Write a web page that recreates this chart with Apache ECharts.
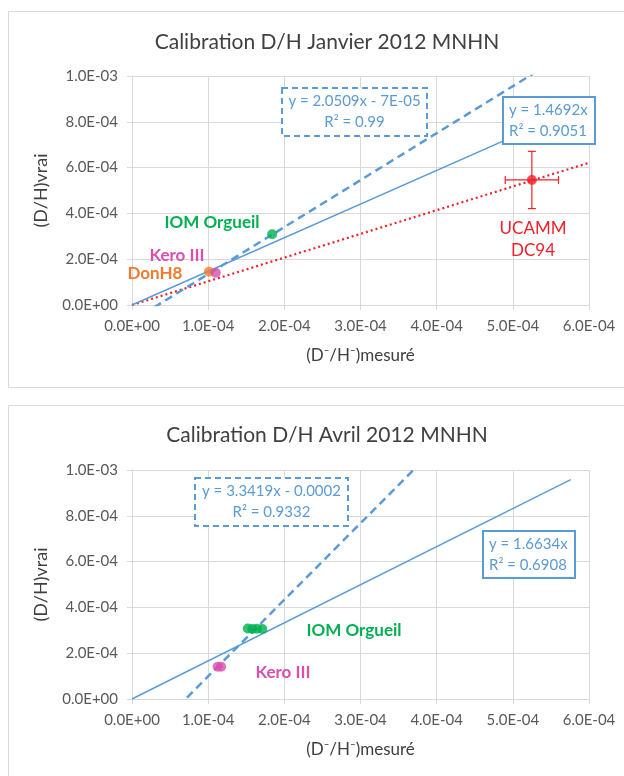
<!DOCTYPE html>
<html><head><meta charset="utf-8">
<script src="https://cdn.jsdelivr.net/npm/echarts@6/dist/echarts.min.js"></script>
<style>html,body{margin:0;padding:0;background:#fff}#c{width:624px;height:776px}</style>
</head><body><div id="c"></div>
<script>
// ---- Data: January 2012 ----
const janIOM = [[1.84e-4, 3.09e-4]];
const janKero = [[1.10e-4, 1.41e-4]];
const janDonH8 = [[1.01e-4, 1.45e-4]];
const janUcamm = [[5.25e-4, 5.46e-4]];
const janUcammErr = [[3.5e-5, 1.25e-4]];          // [x error, y error]
const janFitSolid = [1.4692, 0, 0, 5.25e-4];       // slope, intercept, xStart, xEnd
const janFitDashed = [2.0509, -7e-5, 0, 6e-4];
const janFitDotted = [1.035, 0, 0, 6e-4];
const janLabelsDashed = ['y = 2.0509x - 7E-05', 'R² = 0.99'];
const janLabelsSolid = ['y = 1.4692x', 'R² = 0.9051'];

// ---- Data: April 2012 ----
const aprIOM = [[1.52e-4, 3.08e-4], [1.58e-4, 3.06e-4], [1.64e-4, 3.07e-4], [1.71e-4, 3.06e-4]];
const aprKero = [[1.125e-4, 1.41e-4], [1.17e-4, 1.41e-4]];
const aprFitSolid = [1.6634, 0, 0, 5.76e-4];
const aprFitDashed = [3.3419, -2.35e-4, 0, 6e-4];
const aprLabelsDashed = ['y = 3.3419x - 0.0002', 'R² = 0.9332'];
const aprLabelsSolid = ['y = 1.6634x', 'R² = 0.6908'];

const titles = ['Calibration D/H Janvier 2012 MNHN', 'Calibration D/H Avril 2012 MNHN'];
const xName = '(D\u207B/H\u207B)mesuré';
const yName = '(D/H)vrai';

const FONT = 'Lato, "Open Sans", sans-serif';
const BLUE = '#5B9BD5';
const GRID = '#D9D9D9';

function sci(v) {
  if (Math.abs(v) < 1e-12) return '0.0E+00';
  const [m, e] = v.toExponential(1).split('e');
  const n = parseInt(e, 10);
  return m + 'E' + (n < 0 ? '-' : '+') + String(Math.abs(n)).padStart(2, '0');
}
function fitLine(f) {
  return [[f[2], f[0] * f[2] + f[1]], [f[3], f[0] * f[3] + f[1]]];
}

const chart = echarts.init(document.getElementById('c'), null, {renderer: 'canvas'});

function xAxis(gi) {
  return {
    gridIndex: gi, type: 'value', min: 0, max: 6e-4, interval: 1e-4,
    name: xName, nameLocation: 'middle', nameGap: 42,
    nameTextStyle: {fontFamily: FONT, fontSize: 17, color: '#404040'},
    axisLine: {lineStyle: {color: GRID}}, axisTick: {show: true, length: 5, lineStyle: {color: GRID}},
    axisLabel: {formatter: sci, fontFamily: FONT, fontSize: 15, color: '#595959', margin: 14},
    splitLine: {lineStyle: {color: GRID}}
  };
}
function yAxis(gi) {
  return {
    gridIndex: gi, type: 'value', min: 0, max: 1e-3, interval: 2e-4,
    name: yName, nameLocation: 'middle', nameGap: 82, nameRotate: 90,
    nameTextStyle: {fontFamily: FONT, fontSize: 18, color: '#404040'},
    axisLine: {show: true, lineStyle: {color: GRID}}, axisTick: {show: true, length: 5, lineStyle: {color: GRID}},
    axisLabel: {formatter: sci, fontFamily: FONT, fontSize: 15, color: '#595959', margin: 14},
    splitLine: {lineStyle: {color: GRID}}
  };
}
function scatter(gi, data, color, z) {
  return {type: 'scatter', xAxisIndex: gi, yAxisIndex: gi, data, symbolSize: 10,
    itemStyle: {color}, z: z || 5, silent: true};
}
function line(gi, f, style) {
  return {type: 'line', xAxisIndex: gi, yAxisIndex: gi, data: fitLine(f), symbol: 'none',
    clip: true, lineStyle: style, z: 3, silent: true};
}

const errData = janUcamm.map((p, i) => [p[0], p[1], janUcammErr[i][0], janUcammErr[i][1]]);

function labelBox(x, y, w, h, lines, dashed, align) {
  const children = [{
    type: 'rect', z: 100, shape: {x: 0, y: 0, width: w, height: h},
    style: {fill: '#fff', stroke: BLUE, lineWidth: 2, lineDash: dashed ? [6, 4] : null}
  }];
  lines.forEach((t, i) => {
    children.push({
      type: 'text', z: 101, x: align === 'left' ? 6 : w / 2, y: 13 + i * 21,
      style: {text: t, fill: BLUE, font: '15px ' + FONT, textAlign: align === 'left' ? 'left' : 'center', textVerticalAlign: 'middle'}
    });
  });
  return {type: 'group', x, y, z: 100, children};
}
function txt(x, y, t, color, bold) {
  return {type: 'text', x, y, z: 100, style: {text: t, fill: color, font: (bold ? 'bold ' : '') + '17px ' + FONT, textAlign: 'center', textVerticalAlign: 'middle'}};
}

chart.setOption({
  animation: false,
  title: [
    {text: titles[0], left: 322, top: 27, textAlign: 'center', textStyle: {fontFamily: FONT, fontSize: 21, fontWeight: 'normal', color: '#404040'}},
    {text: titles[1], left: 322, top: 420, textAlign: 'center', textStyle: {fontFamily: FONT, fontSize: 21, fontWeight: 'normal', color: '#404040'}}
  ],
  grid: [
    {left: 132, top: 76, width: 457, height: 229},
    {left: 132, top: 470, width: 457, height: 229}
  ],
  xAxis: [xAxis(0), xAxis(1)],
  yAxis: [yAxis(0), yAxis(1)],
  series: [
    line(0, janFitDotted, {color: '#F0202A', width: 2.2, type: [2, 3]}),
    line(0, janFitSolid, {color: BLUE, width: 1.5}),
    line(0, janFitDashed, {color: BLUE, width: 2.5, type: [8, 5]}),
    {type: 'custom', xAxisIndex: 0, yAxisIndex: 0, data: errData, z: 4, silent: true,
      renderItem: function (params, api) {
        const x = api.value(0), y = api.value(1), ex = api.value(2), ey = api.value(3);
        const l = api.coord([x - ex, y]), r = api.coord([x + ex, y]);
        const t = api.coord([x, y + ey]), b = api.coord([x, y - ey]);
        const st = {stroke: '#F0202A', lineWidth: 1.2};
        const c = 4;
        return {type: 'group', children: [
          {type: 'line', shape: {x1: l[0], y1: l[1], x2: r[0], y2: r[1]}, style: st},
          {type: 'line', shape: {x1: t[0], y1: t[1], x2: b[0], y2: b[1]}, style: st},
          {type: 'line', shape: {x1: l[0], y1: l[1] - c, x2: l[0], y2: l[1] + c}, style: st},
          {type: 'line', shape: {x1: r[0], y1: r[1] - c, x2: r[0], y2: r[1] + c}, style: st},
          {type: 'line', shape: {x1: t[0] - c, y1: t[1], x2: t[0] + c, y2: t[1]}, style: st},
          {type: 'line', shape: {x1: b[0] - c, y1: b[1], x2: b[0] + c, y2: b[1]}, style: st}
        ]};
      }},
    scatter(0, janIOM, '#00B050'),
    scatter(0, janDonH8, '#F07A30', 5),
    scatter(0, janKero, '#DA4FAE', 6),
    scatter(0, janUcamm, '#F0202A'),
    line(1, aprFitSolid, {color: BLUE, width: 1.5}),
    line(1, aprFitDashed, {color: BLUE, width: 2.5, type: [8, 5]}),
    scatter(1, aprIOM, '#00B050'),
    scatter(1, aprKero, '#DA4FAE')
  ],
  graphic: [
    {type: 'rect', shape: {x: 8.5, y: 11.5, width: 640, height: 376}, style: {fill: null, stroke: '#D9D9D9', lineWidth: 1}, z: 0},
    {type: 'rect', shape: {x: 8.5, y: 405.5, width: 640, height: 400}, style: {fill: null, stroke: '#D9D9D9', lineWidth: 1}, z: 0},
    labelBox(282, 88, 145, 48, janLabelsDashed, true, 'center'),
    labelBox(503, 97, 92, 47, janLabelsSolid, false, 'left'),
    txt(212, 223, 'IOM Orgueil', '#00B050', true),
    txt(177, 256, 'Kero III', '#DA4FAE', true),
    txt(155, 274, 'DonH8', '#F07A30', true),
    txt(533, 229, 'UCAMM', '#F0202A', false),
    txt(533, 251, 'DC94', '#F0202A', false),
    labelBox(195, 478, 153, 48, aprLabelsDashed, true, 'center'),
    labelBox(483, 531, 92, 47, aprLabelsSolid, false, 'left'),
    txt(354, 631, 'IOM Orgueil', '#00B050', true),
    txt(283, 673, 'Kero III', '#DA4FAE', true)
  ]
});
</script>
</body></html>
